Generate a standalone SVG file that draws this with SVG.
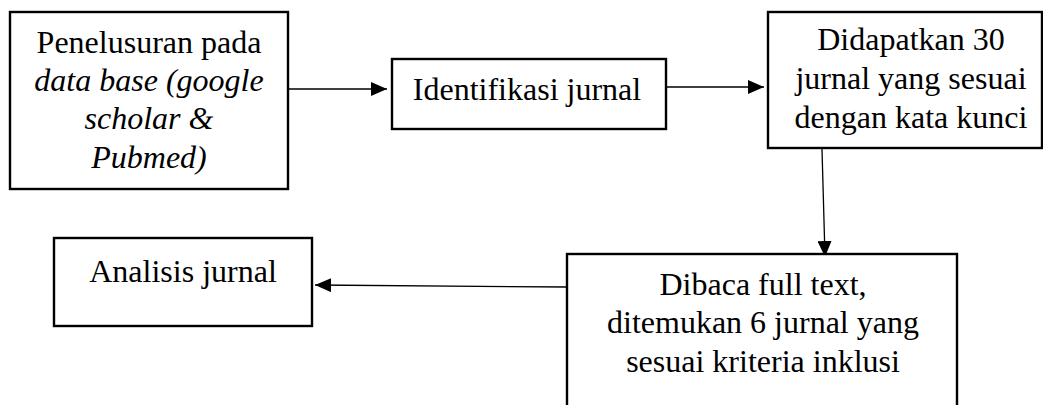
<svg xmlns="http://www.w3.org/2000/svg" width="1043" height="405" viewBox="0 0 1043 405">
<style>
.box{fill:#fff;stroke:#000;stroke-width:2.4}
.t{font-family:"Liberation Serif","Times New Roman",serif;font-size:32px;fill:#000;text-anchor:middle}
.i{font-style:italic}
.c{stroke:#000;stroke-width:1.3;fill:none;marker-end:url(#ah)}
</style>
<defs>
<marker id="ah" markerUnits="userSpaceOnUse" markerWidth="17" markerHeight="14" refX="16" refY="7" orient="auto">
<path d="M0,0 L16,7 L0,14 z" fill="#000"/>
</marker>
</defs>
<rect width="1043" height="405" fill="#fff"/>
<g id="connectors">
<line class="c" x1="289" y1="89" x2="387" y2="89"/>
<line class="c" x1="666" y1="87" x2="764" y2="87"/>
<line class="c" x1="822" y1="149" x2="825" y2="257"/>
<line class="c" x1="567" y1="287" x2="315" y2="285"/>
</g>
<g id="n1">
<rect class="box" x="10" y="12" width="278" height="177"/>
<text class="t" x="149" y="53">Penelusuran pada</text>
<text class="t i" x="149" y="91">data base (google</text>
<text class="t i" x="149" y="129">scholar &amp;</text>
<text class="t i" x="149" y="168">Pubmed)</text>
</g>
<g id="n2">
<rect class="box" x="392" y="59" width="274" height="70"/>
<text class="t" x="527" y="100">Identifikasi jurnal</text>
</g>
<g id="n3">
<rect class="box" x="768" y="12" width="274" height="136"/>
<text class="t" x="911" y="50">Didapatkan 30</text>
<text class="t" x="911" y="89">jurnal yang sesuai</text>
<text class="t" x="911" y="128">dengan kata kunci</text>
</g>
<g id="n4">
<rect class="box" x="567" y="254" width="390" height="160"/>
<text class="t" x="763" y="295">Dibaca full text,</text>
<text class="t" x="763" y="333">ditemukan 6 jurnal yang</text>
<text class="t" x="763" y="372">sesuai kriteria inklusi</text>
</g>
<g id="n5">
<rect class="box" x="54" y="238" width="258" height="88"/>
<text class="t" x="183" y="282">Analisis jurnal</text>
</g>
</svg>
